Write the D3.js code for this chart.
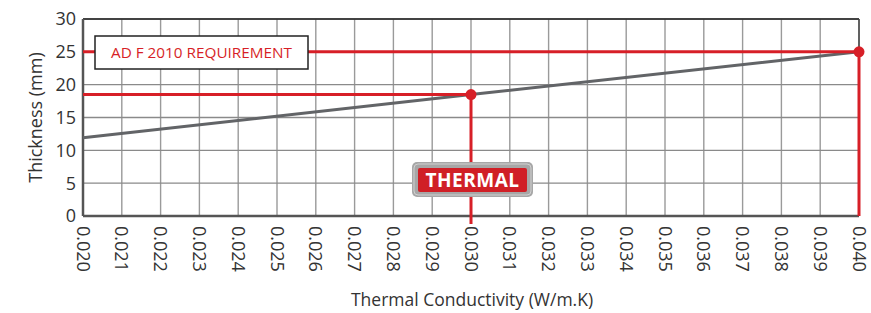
<!DOCTYPE html>
<html><head><meta charset="utf-8">
<script src="https://cdn.jsdelivr.net/npm/d3@7/dist/d3.min.js"></script>
<style>body{margin:0;background:#fff;} text{font-family:"Open Sans","Noto Sans",sans-serif;}</style>
</head><body><svg id="c" width="871" height="313"></svg>
<script>
const xTicks = [0.020,0.021,0.022,0.023,0.024,0.025,0.026,0.027,0.028,0.029,0.030,0.031,0.032,0.033,0.034,0.035,0.036,0.037,0.038,0.039,0.040];
const yTicks = [0,5,10,15,20,25,30];
const lineX = [0.020, 0.030, 0.040];
const lineY = [11.9, 18.5, 25];
const requirementValue = 25;
const requirementLabel = "AD F 2010 REQUIREMENT";
const markerX = [0.030, 0.040];
const markerY = [18.5, 25];
const xTitle = "Thermal Conductivity (W/m.K)";
const yTitle = "Thickness (mm)";
const logoText = "THERMAL";

const svg = d3.select("#c");
const L=83, R=859, T=19, B=216;
const x = d3.scaleLinear().domain([0.020,0.040]).range([L,R]);
const y = d3.scaleLinear().domain([0,30]).range([B,T]);
const red = "#d71f27";

// grid
svg.append("g").selectAll("line").data(xTicks).join("line")
  .attr("x1",d=>x(d)).attr("x2",d=>x(d)).attr("y1",T).attr("y2",B)
  .attr("stroke","#9a9a9a").attr("stroke-width",1.4);
svg.append("g").selectAll("line").data(yTicks).join("line")
  .attr("x1",L).attr("x2",R).attr("y1",d=>y(d)).attr("y2",d=>y(d))
  .attr("stroke","#8a8a8a").attr("stroke-width",1.4);
// frame
svg.append("line").attr("x1",L).attr("x2",R).attr("y1",T).attr("y2",T).attr("stroke","#222").attr("stroke-width",1.5);
svg.append("line").attr("x1",R).attr("x2",R).attr("y1",T).attr("y2",B).attr("stroke","#444").attr("stroke-width",1.5);
svg.append("line").attr("x1",L).attr("x2",L).attr("y1",T).attr("y2",B).attr("stroke","#555").attr("stroke-width",2.5);
svg.append("line").attr("x1",L).attr("x2",R).attr("y1",B).attr("y2",B).attr("stroke","#555").attr("stroke-width",2.5);

// y tick labels
svg.append("g").selectAll("text").data(yTicks).join("text")
  .attr("x",76).attr("y",d=>y(d)).attr("dy","0.36em").attr("text-anchor","end")
  .attr("font-size",18).attr("fill","#333").text(d=>d);
// x tick labels rotated
svg.append("g").selectAll("text").data(xTicks).join("text")
  .attr("transform",d=>`translate(${x(d)},226) rotate(90)`)
  .attr("dy","0.36em").attr("text-anchor","start")
  .attr("font-size",18).attr("fill","#333").text(d=>d.toFixed(3));
// titles
svg.append("text").attr("x",472).attr("y",306).attr("text-anchor","middle")
  .attr("font-size",17.5).attr("fill","#333").text(xTitle);
svg.append("text").attr("transform",`translate(42,${(T+B)/2}) rotate(-90)`)
  .attr("text-anchor","middle").attr("font-size",18).attr("fill","#333").text(yTitle);

// data line
svg.append("path").datum(lineX.map((d,i)=>[d,lineY[i]]))
  .attr("d",d3.line().x(d=>x(d[0])).y(d=>y(d[1])))
  .attr("fill","none").attr("stroke","#626467").attr("stroke-width",3);

// red reference lines
svg.append("line").attr("x1",L).attr("x2",R).attr("y1",y(requirementValue)).attr("y2",y(requirementValue))
  .attr("stroke",red).attr("stroke-width",3);
svg.append("line").attr("x1",L).attr("x2",x(markerX[0])).attr("y1",y(markerY[0])).attr("y2",y(markerY[0]))
  .attr("stroke",red).attr("stroke-width",3);
svg.append("line").attr("x1",x(markerX[0])).attr("x2",x(markerX[0])).attr("y1",y(markerY[0])).attr("y2",B+8)
  .attr("stroke",red).attr("stroke-width",3);
svg.append("line").attr("x1",x(markerX[1])).attr("x2",x(markerX[1])).attr("y1",y(markerY[1])).attr("y2",B)
  .attr("stroke",red).attr("stroke-width",3);
svg.append("g").selectAll("circle").data(markerX).join("circle")
  .attr("cx",d=>x(d)).attr("cy",(d,i)=>y(markerY[i])).attr("r",5.5).attr("fill",red);

// requirement label box
svg.append("rect").attr("x",95).attr("y",36).attr("width",213).attr("height",33)
  .attr("fill","#fff").attr("stroke","#222").attr("stroke-width",1.5);
svg.append("text").attr("x",201.5).attr("y",52.5).attr("dy","0.36em").attr("text-anchor","middle")
  .attr("font-size",15.3).attr("fill",red).text(requirementLabel);

// THERMAL logo
const lx = x(markerX[0]);
svg.append("rect").attr("x",lx-59).attr("y",162).attr("width",121).attr("height",35).attr("rx",5)
  .attr("fill","#a7a7a7");
svg.append("rect").attr("x",lx-57).attr("y",164).attr("width",117).attr("height",31).attr("rx",4)
  .attr("fill","none").attr("stroke","#d0d0d0").attr("stroke-width",1);
svg.append("rect").attr("x",lx-53).attr("y",168).attr("width",109).attr("height",24).attr("rx",2)
  .attr("fill","#d01f26");
svg.append("text").attr("x",lx+1.5).attr("y",180.5).attr("dy","0.36em").attr("text-anchor","middle")
  .attr("font-size",19).attr("font-weight","bold").attr("fill","#fff")
  .attr("font-family","'Open Sans',sans-serif").attr("letter-spacing",0.5).text(logoText);
</script></body></html>
